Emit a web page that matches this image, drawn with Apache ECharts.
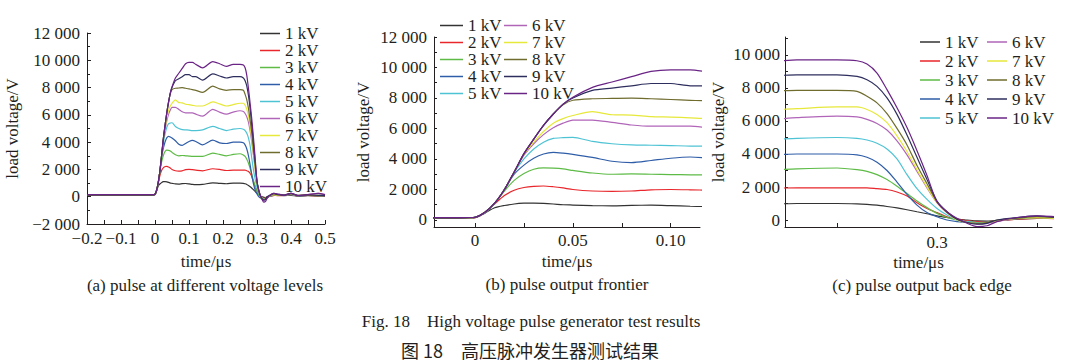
<!DOCTYPE html>
<html><head><meta charset="utf-8">
<script src="https://cdn.jsdelivr.net/npm/echarts@6/dist/echarts.min.js"></script>
<style>html,body{margin:0;padding:0;background:#fff}#c{width:1069px;height:364px}</style>
</head><body><div id="c"></div>
<script>
// ---- data (time in µs, voltage in V) ----
const T = [-0.2,-0.1,-0.02,-0.01,0,0.005,0.01,0.015,0.02,0.025,0.03,0.035,0.04,0.045,0.05,0.06,0.07,0.08,0.09,0.1,0.11,0.12,0.14,0.17,0.19,0.21,0.23,0.25,0.26,0.265,0.27,0.275,0.28,0.285,0.29,0.295,0.3,0.305,0.31,0.315,0.32,0.325,0.33,0.34,0.35,0.36,0.38,0.4,0.42,0.45,0.48,0.5];
const V1 = [100,100,100,100, 150,450,800,950,1050,1100,1110,1090,1050,1000,980, 940,930,960,970,940,900,880, 900,1020,980,950,1000,1000, 980,950,900,820,730,620,500,380,250,150,50,0,-50,-60,-30,50,100,100, 80,100,50,80,60,50];
const V2 = [100,100,100,100, 160,470,1050,1600,1950,2130,2210,2230,2180,2100,2000, 1900,1870,1900,1980,2000,1980,1950, 1900,2050,2000,1920,1950,1950, 1950,1950,1900,1850,1700,1450,1050,700,450,200,50,-50,-100,-100,-50,50,100,80, 100,150,50,100,50,80];
const V3 = [100,100,100,100, 170,480,1080,1900,2600,3050,3330,3420,3400,3350,3250, 3080,3000,3020,3000,2980,2960,2950, 2950,3200,3100,3000,3100,3150, 3050,2950,2750,2450,2050,1600,1150,750,400,150,0,-100,-150,-120,-50,80,150,120, 100,200,50,120,80,100];
const V4 = [100,100,100,100, 170,480,1090,1980,3000,3600,4050,4330,4430,4380,4300, 4100,3850,3760,3900,4050,4130,4050, 3800,4150,3950,3900,4000,4000, 3950,3800,3500,3000,2300,1550,900,450,200,0,-100,-150,-150,-120,-50,80,200,200, 100,200,50,100,100,80];
const V5 = [100,100,100,100, 180,490,1100,2000,3100,4000,4650,5100,5350,5400,5420, 5150,5000,4920,4900,4880,4850,4850, 4900,5150,5000,4850,4950,5000, 4950,4850,4650,4300,3700,2750,1900,1250,700,300,0,-100,-150,-150,-50,100,150,150, 100,150,80,100,80,100];
const V6 = [120,120,120,120, 180,490,1100,2000,3150,4250,5000,5600,6050,6350,6550, 6550,6400,6230,6150,6150,6150,6050, 5900,6400,6200,6050,6200,6300, 6250,6100,5850,5450,4800,3950,2950,1950,1050,450,50,-150,-250,-200,-80,100,200,180, 150,250,100,150,250,150];
const V7 = [120,120,120,120, 180,500,1100,2000,3150,4300,5100,5800,6350,6650,6850, 7100,6900,6880,6780,6750,6700,6650, 6650,6950,6800,6650,6750,6850, 6850,6700,6400,5900,5100,4150,3050,2000,1050,450,0,-150,-200,-150,-50,100,150,100, 100,200,80,150,100,100];
const V8 = [120,120,120,120, 180,500,1100,2000,3150,4350,5300,6200,6950,7550,7850, 7950,7970,7990,7950,7900,7850,7800, 7650,8100,7900,7800,7850,7850, 7800,7500,7100,6450,5550,4550,3300,2200,1100,450,50,-150,-200,-150,0,100,200,150, 100,200,80,100,80,80];
const V9 = [130,130,130,130, 180,500,1100,2000,3150,4350,5300,6200,6950,7600,8000, 8500,8650,8800,8950,8950,8800,8800, 8550,9000,8850,8700,8800,8800, 8700,8500,8100,7400,6400,5150,3800,2450,1150,500,50,-150,-250,-200,0,150,250,150, 120,250,100,150,100,100];
const V10 = [150,150,150,150, 180,500,1100,2000,3150,4350,5300,6200,6950,7600,8050, 8700,9050,9400,9750,9850,9850,9700, 9450,9900,9750,9550,9700,9700, 9650,9450,8900,7900,6800,5600,4200,2700,1100,500,100,-200,-400,-350,-100,150,250,200, 100,250,80,150,250,150];
const NAMES = ['1 kV','2 kV','3 kV','4 kV','5 kV','6 kV','7 kV','8 kV','9 kV','10 kV'];
const COLORS = ['#333333','#e8262b','#5dbb46','#2f5da8','#4ec3d4','#b065b8','#e6e83a','#6f6c2e','#2e2e5e','#6a2486'];
// tick values / labels
const XT_B = [0,0.025,0.05,0.075,0.1];
const XL_B = [0,0.05,0.1];
const XT_C = [0.25,0.3,0.35];
const XL_C = [0.3];
const YT_B = [0,1000,2000,3000,4000,5000,6000,7000,8000,9000,10000,11000,12000];
const YL_B = [0,2000,4000,6000,8000,10000,12000];
const YT_C = [0,1000,2000,3000,4000,5000,6000,7000,8000,9000,10000,11000];
const YL_C = [0,2000,4000,6000,8000,10000];

const V = [V1,V2,V3,V4,V5,V6,V7,V8,V9,V10];
const FONT = '"Liberation Serif","Times New Roman",serif';
const TXT = '#231f20';
const FS = 17;

function fmtK(v){
  const a = Math.abs(Math.round(v));
  const s = a >= 1000 ? Math.floor(a/1000) + ' ' + String(a%1000).padStart(3,'0') : String(a);
  return (v < 0 ? '\u2212' : '') + s;
}
function fmtXa(v){
  if (Math.abs(v) < 1e-9) return '0';
  return (v < 0 ? '\u2212' : '') + Math.abs(v).toFixed(1);
}
const lbl = (extra) => Object.assign({color:TXT, fontFamily:FONT, fontSize:FS}, extra);
const axLine = {show:true, onZero:false, lineStyle:{color:TXT, width:1}};
const nameStyle = {color:TXT, fontFamily:FONT, fontSize:FS};

const grids = [
  {left:87, top:33, width:238, height:191},
  {left:434, top:37, width:266, height:190},
  {left:785, top:37, width:267, height:190}
];

const xAxis = [
  {gridIndex:0, type:'value', min:-0.2, max:0.5, interval:0.1,
   axisLine:axLine, splitLine:{show:false},
   axisTick:{inside:true, length:4, lineStyle:{color:TXT}},
   minorTick:{show:true, splitNumber:2, length:4, lineStyle:{color:TXT}},
   axisLabel:lbl({margin:6, formatter:fmtXa, showMinLabel:true, showMaxLabel:true}),
   name:'time/\u03bcs', nameLocation:'middle', nameGap:29, nameMoveOverlap:false, nameTextStyle:nameStyle},
  {gridIndex:1, type:'value', min:-0.021, max:0.115,
   axisLine:axLine, splitLine:{show:false},
   axisTick:{inside:true, length:4, lineStyle:{color:TXT}, customValues:XT_B},
   axisLabel:lbl({margin:5, customValues:XL_B, formatter:v => Math.abs(v)<1e-9 ? '0' : v.toFixed(2)}),
   name:'time/\u03bcs', nameLocation:'middle', nameGap:26, nameMoveOverlap:false, nameTextStyle:nameStyle},
  {gridIndex:2, type:'value', min:0.224, max:0.3575,
   axisLine:axLine, splitLine:{show:false},
   axisTick:{inside:true, length:4, lineStyle:{color:TXT}, customValues:XT_C},
   axisLabel:lbl({margin:7, customValues:XL_C, formatter:v => v.toFixed(1)}),
   name:'time/\u03bcs', nameLocation:'middle', nameGap:27, nameMoveOverlap:false, nameTextStyle:nameStyle}
];
const yAxis = [
  {gridIndex:0, type:'value', min:-2000, max:12000, interval:2000,
   axisLine:axLine, splitLine:{show:false},
   axisTick:{show:true, inside:true, length:4, lineStyle:{color:TXT}},
   minorTick:{show:true, splitNumber:2, length:3, lineStyle:{color:TXT}},
   axisLabel:lbl({margin:7, formatter:fmtK}),
   name:'load voltage/V', nameLocation:'middle', nameGap:66, nameMoveOverlap:false, nameTextStyle:nameStyle},
  {gridIndex:1, type:'value', min:-460, max:12000,
   axisLine:axLine, splitLine:{show:false},
   axisTick:{show:true, inside:true, length:3, lineStyle:{color:TXT}, customValues:YT_B},
   axisLabel:lbl({margin:7, customValues:YL_B, formatter:fmtK}),
   name:'load voltage/V', nameLocation:'middle', nameGap:62, nameMoveOverlap:false, nameTextStyle:nameStyle},
  {gridIndex:2, type:'value', min:-424, max:11090,
   axisLine:axLine, splitLine:{show:false},
   axisTick:{show:true, inside:true, length:3, lineStyle:{color:TXT}, customValues:YT_C},
   axisLabel:lbl({margin:5, customValues:YL_C, formatter:fmtK}),
   name:'load voltage/V', nameLocation:'middle', nameGap:58, nameMoveOverlap:false, nameTextStyle:nameStyle}
];

const series = [];
for (let g = 0; g < 3; g++) {
  for (let k = 0; k < 10; k++) {
    series.push({
      type:'line', name:NAMES[k], xAxisIndex:g, yAxisIndex:g,
      data:T.map((t,i) => [t, V[k][i]]),
      symbol:'none', showSymbol:false, smooth:0.25, clip:true,
      lineStyle:{width:1.2, color:COLORS[k]}, itemStyle:{color:COLORS[k]},
      emphasis:{disabled:true}
    });
  }
}

const legBase = (lh) => ({orient:'vertical', icon:'rect', itemHeight:1.5, itemGap:0, padding:0, selectedMode:false,
  textStyle:{fontFamily:FONT, fontSize:FS, color:TXT, lineHeight:lh}});
const legend = [
  Object.assign(legBase(16),   {data:NAMES, left:260, top:25, itemWidth:20}),
  Object.assign(legBase(15.7), {data:NAMES.slice(0,5), left:440, top:17, itemWidth:23}),
  Object.assign(legBase(15.7), {data:NAMES.slice(5), left:504, top:17, itemWidth:23}),
  Object.assign(legBase(19),   {data:NAMES.slice(0,5), left:920, top:32.5, itemWidth:20}),
  Object.assign(legBase(19),   {data:NAMES.slice(5), left:987, top:32.5, itemWidth:20})
];

const cap = (x, y, text, font) => ({type:'text', x:x, y:y, silent:true,
  style:{text:text, textAlign:'center', textVerticalAlign:'middle', font:font, fill:TXT}});
const graphic = [
  cap(205, 285, '(a) pulse at different voltage levels', FS + 'px ' + FONT),
  cap(567, 284, '(b) pulse output frontier', FS + 'px ' + FONT),
  cap(922, 285, '(c) pulse output back edge', FS + 'px ' + FONT),
  cap(531, 321, 'Fig. 18    High voltage pulse generator test results', FS + 'px ' + FONT),
  cap(530, 350, '\u56fe 18\u3000\u9ad8\u538b\u8109\u51b2\u53d1\u751f\u5668\u6d4b\u8bd5\u7ed3\u679c', '18px "Noto Sans CJK SC", ' + FONT)
];

const chart = echarts.init(document.getElementById('c'), null, {renderer:'svg'});
chart.setOption({
  animation:false, backgroundColor:'#ffffff',
  grid:grids, xAxis:xAxis, yAxis:yAxis, series:series, legend:legend, graphic:graphic
});
</script>
</body></html>
